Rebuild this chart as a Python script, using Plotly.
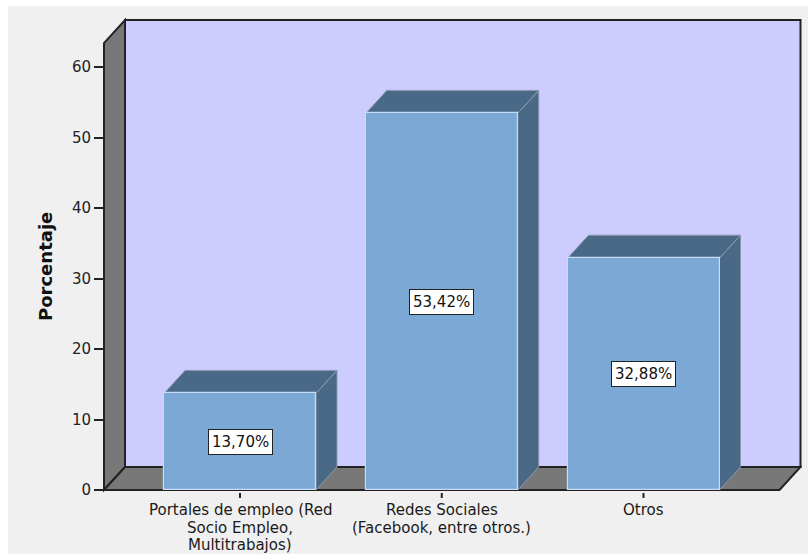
import plotly.graph_objects as go

# Data
categories = [
    ["Portales de empleo (Red", "Socio Empleo,", "Multitrabajos)"],
    ["Redes Sociales", "(Facebook, entre otros.)"],
    ["Otros"],
]
percentages = [13.70, 53.42, 32.88]
y_ticks = [0, 10, 20, 30, 40, 50, 60]
y_title = "Porcentaje"

# Colours
BG = "#f0f0f0"
WALL_BACK = "#ccccff"
WALL_SIDE = "#787878"
EDGE = "#222222"
BAR_FRONT = "#7ba8d5"
BAR_FRONT_EDGE = "#c6def3"
BAR_SHADE = "#4a6987"
BAR_SHADE_EDGE = "#8a9aab"

# Layout geometry (pixels) and the axis scales it implies
W, H = 808, 554
ML, MR, MT, MB = 90, 6, 14, 56
PX_PER_X = 201.75          # pixels per category step
PX_PER_Y = 7.05            # pixels per percentage point
plot_w = W - ML - MR
plot_h = H - MT - MB
x_lo = -0.6741 - 14 / PX_PER_X
x_hi = x_lo + plot_w / PX_PER_X
y_lo = -8 / PX_PER_Y
y_hi = y_lo + plot_h / PX_PER_Y

# 3D box in data units
fx0, fx1 = -0.6741, 2.6741       # front floor edge
wall_top = 63.40                 # front top of side wall
dx = 21 / PX_PER_X               # depth offset (x)
dy = 23 / PX_PER_Y               # depth offset (y)
bar_w = 0.7534

xs = list(range(len(percentages)))

fig = go.Figure()
fig.add_trace(go.Bar(
    x=xs, y=percentages, width=bar_w,
    marker=dict(color=BAR_FRONT, line=dict(color=BAR_FRONT_EDGE, width=1.2)),
    hoverinfo="skip", showlegend=False,
))

shapes = []
# grey canvas behind the chart
shapes.append(dict(type="rect", xref="paper", yref="paper",
                   x0=(8 - ML) / plot_w, x1=(W - ML) / plot_w,
                   y0=(MT + plot_h - H) / plot_h, y1=(MT + plot_h - 6) / plot_h,
                   fillcolor=BG, line=dict(width=0), layer="below"))

def poly(pts):
    return "M " + " L ".join(f"{x},{y}" for x, y in pts) + " Z"

# back wall
shapes.append(dict(type="rect", xref="x", yref="y",
                   x0=fx0 + dx, x1=fx1 + dx, y0=dy, y1=wall_top + dy,
                   fillcolor=WALL_BACK, line=dict(color=EDGE, width=2), layer="below"))
# left wall
shapes.append(dict(type="path", xref="x", yref="y",
                   path=poly([(fx0, 0), (fx0, wall_top), (fx0 + dx, wall_top + dy), (fx0 + dx, dy)]),
                   fillcolor=WALL_SIDE, line=dict(color=EDGE, width=2), layer="below"))
# floor
shapes.append(dict(type="path", xref="x", yref="y",
                   path=poly([(fx0, 0), (fx1, 0), (fx1 + dx, dy), (fx0 + dx, dy)]),
                   fillcolor=WALL_SIDE, line=dict(color=EDGE, width=2), layer="below"))

# bar tops and right-hand sides
for x, v in zip(xs, percentages):
    l, r = x - bar_w / 2, x + bar_w / 2
    shapes.append(dict(type="path", xref="x", yref="y",
                       path=poly([(l, v), (l + dx, v + dy), (r + dx, v + dy), (r, v)]),
                       fillcolor=BAR_SHADE, line=dict(color=BAR_SHADE_EDGE, width=1), layer="below"))
    shapes.append(dict(type="path", xref="x", yref="y",
                       path=poly([(r, 0), (r, v), (r + dx, v + dy), (r + dx, dy)]),
                       fillcolor=BAR_SHADE, line=dict(color=BAR_SHADE_EDGE, width=1), layer="below"))
    # category tick mark below the floor edge
    shapes.append(dict(type="line", xref="x", yref="y", ysizemode="pixel", yanchor=0,
                       x0=x, x1=x, y0=-3, y1=-11, line=dict(color=EDGE, width=2)))

annotations = []
# value labels
for x, v in zip(xs, percentages):
    annotations.append(dict(
        x=x, y=v / 2, xref="x", yref="y", showarrow=False,
        text=f"{v:.2f}".replace(".", ",") + "%",
        font=dict(family="DejaVu Sans", size=15, color="#111111"),
        bgcolor="white", bordercolor=EDGE, borderwidth=1, borderpad=3,
    ))
# category labels, one line at a time with tight leading
for x, lines in zip(xs, categories):
    for i, line in enumerate(lines):
        annotations.append(dict(
            x=x, y=0, xref="x", yref="y", showarrow=False,
            xanchor="center", yanchor="middle", yshift=-(20 + 17.5 * i),
            text=line, font=dict(family="DejaVu Sans", size=15, color="#1a1a1a"),
        ))
# y-axis title
annotations.append(dict(
    x=(45 - ML) / plot_w, y=(MT + plot_h - 267) / plot_h, xref="paper", yref="paper",
    xanchor="center", yanchor="middle",
    showarrow=False, textangle=-90, text=f"<b>{y_title}</b>",
    font=dict(family="DejaVu Sans", size=18, color="#111111"),
))

fig.update_layout(
    width=W, height=H,
    margin=dict(l=ML, r=MR, t=MT, b=MB, pad=0),
    paper_bgcolor="white", plot_bgcolor=BG,
    shapes=shapes, annotations=annotations,
    bargap=0, showlegend=False,
    xaxis=dict(range=[x_lo, x_hi], showgrid=False, zeroline=False,
               showline=False, showticklabels=False, ticks="", fixedrange=True),
    yaxis=dict(range=[y_lo, y_hi], showgrid=False, zeroline=False, showline=False,
               anchor="free", position=(fx0 - x_lo) / (x_hi - x_lo), side="left",
               tickvals=y_ticks, ticktext=[str(t) for t in y_ticks],
               ticks="outside", ticklen=10, tickwidth=2, tickcolor=EDGE,
               tickfont=dict(family="DejaVu Sans", size=15, color="#222222"),
               fixedrange=True),
)

fig.write_html("out.html", include_plotlyjs=True, full_html=True,
               config={"displayModeBar": False})
